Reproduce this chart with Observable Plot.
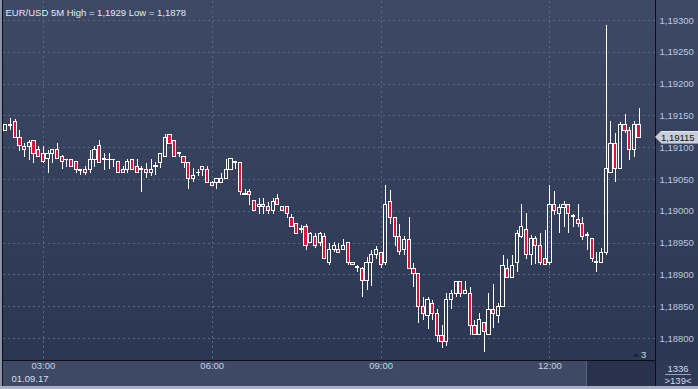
<!DOCTYPE html>
<html>
<head>
<meta charset="utf-8">
<script src="https://cdn.jsdelivr.net/npm/d3@7"></script>
<script src="https://cdn.jsdelivr.net/npm/@observablehq/plot@0.6"></script>
<style>
  html, body { margin: 0; padding: 0; background: #2c3753; }
  #wrap { position: relative; width: 698px; height: 389px; overflow: hidden;
          background: linear-gradient(#3e4a65, #2a3551);
          font-family: "Liberation Sans", Arial, sans-serif; }
  .abs { position: absolute; }
  #wrap svg { position: absolute; left: 0; top: 0; }
  .txt { color: #d3dbea; font-size: 9.5px; line-height: 1; white-space: nowrap; }
  #price { position: absolute; left: 661px; width: 37px; height: 13px; background: #c9ced8;
           border-top: 1px solid #e6e9ef; border-bottom: 1px solid #8d96a8; box-sizing: border-box;
           color: #11151c; font-size: 9.5px; line-height: 11px; padding-left: 0px; white-space: nowrap; z-index: 5; }
  #arrow { position: absolute; left: 655px; width: 0; height: 0; border-top: 6.5px solid transparent;
           border-bottom: 6.5px solid transparent; border-right: 6px solid #c9ced8; z-index: 5; }
</style>
</head>
<body>
<div id="wrap">
  <div class="abs" style="left:3px;top:361px;width:652px;height:25px;background:#3e4a65;"></div>
  <div class="abs" style="left:586px;top:361px;width:69px;height:25px;background:#28324c;border-left:1px solid #56617a;"></div>
  <div class="abs" style="left:656px;top:361px;width:42px;height:25px;background:#2e3955;"></div>
  <div class="abs" style="left:0;top:0;width:2px;height:389px;background:#8a94a8;"></div>
  <div class="abs" style="left:0;top:386px;width:698px;height:3px;background:#a9b2c4;"></div>
  <div class="abs" style="left:2px;top:0;width:1px;height:386px;background:#0b0e16;"></div>
  <div class="abs" style="left:655px;top:0;width:1px;height:386px;background:#0b0e16;"></div>
  <div class="abs" style="left:2px;top:360px;width:654px;height:1px;background:#0b0e16;"></div>
  <div class="abs txt" style="left:667px;top:364px;width:22px;text-align:center;">1336</div>
  <div class="abs" style="left:665px;top:374px;width:26px;height:1px;background:#9aa6bc;"></div>
  <div class="abs txt" style="left:663px;top:376px;width:30px;text-align:center;">&gt;139&lt;</div>
  <div class="abs txt" style="left:641px;top:350px;">3</div>
  <div class="abs" style="left:633px;top:353px;width:0;height:0;border-left:3px solid transparent;border-right:3px solid transparent;border-bottom:4px solid #1c2438;"></div>
</div>
<script>
// ---- data (EUR/USD, 5-minute bars, 01.09.17 from 02:20) ----
const title = "EUR/USD 5M High = 1,1929 Low = 1,1878";
const dateLabel = "01.09.17";
const firstBar = "2017-09-01T02:20:00Z";
const barMinutes = 5;
const totalSlots = 139;

const open = [1.19127,1.19134,1.19140,1.19116,1.19101,1.19101,1.19111,1.19096,1.19090,1.19082,
1.19090,1.19096,1.19086,1.19081,1.19081,1.19077,1.19065,1.19065,1.19065,1.19081,
1.19102,1.19081,1.19081,1.19081,1.19077,1.19065,1.19065,1.19081,1.19070,1.19065,
1.19065,1.19060,1.19070,1.19076,1.19085,1.19120,1.19111,1.19090,1.19085,1.19076,
1.19051,1.19060,1.19065,1.19065,1.19045,1.19045,1.19045,1.19051,1.19065,1.19076,
1.19076,1.19026,1.19030,1.19016,1.19006,1.19010,1.19006,1.19001,1.19020,1.19006,
1.19006,1.18989,1.18980,1.18971,1.18975,1.18950,1.18960,1.18950,1.18960,1.18919,
1.18939,1.18939,1.18939,1.18950,1.18919,1.18911,1.18910,1.18890,1.18919,1.18931,
1.18935,1.18919,1.19015,1.18990,1.18960,1.18939,1.18955,1.18910,1.18901,1.18850,
1.18835,1.18855,1.18839,1.18804,1.18794,1.18860,1.18870,1.18889,1.18870,1.18870,
1.18820,1.18805,1.18824,1.18805,1.18845,1.18835,1.18850,1.18910,1.18895,1.18918,
1.18959,1.18970,1.18931,1.18956,1.18945,1.18925,1.18919,1.19010,1.18995,1.19005,
1.19010,1.18991,1.18986,1.18980,1.18961,1.18956,1.18919,1.18919,1.18935,1.19061,
1.19106,1.19066,1.19136,1.19127,1.19096,1.19136];

const high = [1.19136,1.19146,1.19144,1.19127,1.19107,1.19111,1.19112,1.19102,1.19102,1.19096,
1.19097,1.19107,1.19088,1.19082,1.19082,1.19078,1.19066,1.19070,1.19096,1.19102,
1.19111,1.19091,1.19091,1.19082,1.19078,1.19070,1.19081,1.19082,1.19082,1.19070,
1.19075,1.19082,1.19077,1.19091,1.19120,1.19121,1.19112,1.19091,1.19086,1.19077,
1.19067,1.19065,1.19071,1.19070,1.19047,1.19052,1.19060,1.19082,1.19082,1.19077,
1.19077,1.19035,1.19035,1.19017,1.19020,1.19020,1.19014,1.19020,1.19026,1.19007,
1.19007,1.18995,1.18981,1.18977,1.18980,1.18966,1.18965,1.18966,1.18965,1.18950,
1.18951,1.18949,1.18955,1.18951,1.18920,1.18915,1.18911,1.18928,1.18938,1.18944,
1.18936,1.19041,1.19033,1.18991,1.18980,1.18960,1.18990,1.18918,1.18902,1.18864,
1.18864,1.18860,1.18845,1.18820,1.18870,1.18875,1.18890,1.18890,1.18889,1.18880,
1.18829,1.18839,1.18825,1.18870,1.18885,1.18855,1.18931,1.18925,1.18931,1.18970,
1.19011,1.18996,1.18962,1.18961,1.18965,1.18970,1.19041,1.19031,1.19010,1.19015,
1.19011,1.18995,1.19010,1.18991,1.18966,1.18957,1.18936,1.18941,1.19292,1.19141,
1.19122,1.19140,1.19152,1.19132,1.19141,1.19161];

const low = [1.19125,1.19127,1.19115,1.19094,1.19085,1.19080,1.19075,1.19084,1.19075,1.19059,
1.19075,1.19081,1.19066,1.19069,1.19070,1.19060,1.19056,1.19056,1.19060,1.19069,
1.19075,1.19064,1.19065,1.19069,1.19060,1.19060,1.19060,1.19065,1.19060,1.19030,
1.19051,1.19055,1.19056,1.19067,1.19085,1.19106,1.19085,1.19085,1.19067,1.19035,
1.19045,1.19055,1.19055,1.19045,1.19040,1.19035,1.19044,1.19050,1.19064,1.19065,
1.19025,1.19025,1.19009,1.19000,1.18995,1.18995,1.18995,1.18995,1.19009,1.19000,
1.18989,1.18975,1.18964,1.18965,1.18938,1.18949,1.18941,1.18945,1.18924,1.18914,
1.18935,1.18934,1.18938,1.18914,1.18914,1.18904,1.18865,1.18875,1.18881,1.18925,
1.18910,1.18915,1.18980,1.18944,1.18931,1.18931,1.18909,1.18880,1.18824,1.18829,
1.18814,1.18829,1.18794,1.18784,1.18788,1.18845,1.18864,1.18865,1.18869,1.18805,
1.18804,1.18804,1.18778,1.18804,1.18815,1.18824,1.18849,1.18894,1.18894,1.18904,
1.18958,1.18925,1.18915,1.18917,1.18915,1.18914,1.18915,1.18993,1.18965,1.18975,
1.18965,1.18975,1.18975,1.18954,1.18938,1.18920,1.18904,1.18918,1.18931,1.19060,
1.19045,1.19065,1.19122,1.19080,1.19085,1.19115];

const close = [1.19135,1.19135,1.19116,1.19102,1.19096,1.19107,1.19090,1.19085,1.19077,1.19090,
1.19096,1.19082,1.19077,1.19080,1.19070,1.19065,1.19064,1.19061,1.19081,1.19096,
1.19076,1.19082,1.19080,1.19080,1.19061,1.19061,1.19077,1.19065,1.19060,1.19066,
1.19060,1.19065,1.19071,1.19090,1.19116,1.19106,1.19085,1.19091,1.19076,1.19051,
1.19056,1.19061,1.19070,1.19045,1.19040,1.19051,1.19051,1.19065,1.19082,1.19077,
1.19030,1.19027,1.19026,1.19000,1.19010,1.19006,1.19001,1.19014,1.19010,1.19001,
1.18995,1.18976,1.18965,1.18972,1.18945,1.18965,1.18945,1.18965,1.18925,1.18939,
1.18945,1.18935,1.18945,1.18919,1.18915,1.18912,1.18890,1.18919,1.18931,1.18939,
1.18915,1.19010,1.18989,1.18960,1.18936,1.18955,1.18910,1.18901,1.18850,1.18839,
1.18860,1.18839,1.18804,1.18794,1.18860,1.18870,1.18889,1.18870,1.18875,1.18820,
1.18805,1.18829,1.18810,1.18845,1.18839,1.18850,1.18914,1.18895,1.18914,1.18965,
1.18975,1.18931,1.18956,1.18945,1.18919,1.18915,1.19010,1.19001,1.19005,1.19010,
1.18995,1.18992,1.18980,1.18959,1.18962,1.18925,1.18920,1.18935,1.19066,1.19106,
1.19066,1.19136,1.19127,1.19096,1.19136,1.19115];

const yTicks = [1.188, 1.1885, 1.189, 1.1895, 1.19, 1.1905, 1.191, 1.1915, 1.192, 1.1925, 1.193];
const xTickLabels = ["03:00", "06:00", "09:00", "12:00"];

// ---- build table ----
const t0 = new Date(firstBar);
const bars = open.map((o, i) => ({
  date: d3.utcMinute.offset(t0, barMinutes * i),
  open: o, high: high[i], low: low[i], close: close[i]
}));
const half = barMinutes * 60000 / 2;
const xDomain = [new Date(+t0 - half), new Date(+t0 + (totalSlots - 1) * barMinutes * 60000 + half)];
const xTicks = xTickLabels.map(s => new Date(`2017-09-01T${s}:00Z`));
const bodyHalf = barMinutes * 60000 * 0.34;
const fmtPrice = v => v.toFixed(5).replace(".", ",");
const bull = bars.filter(d => d.close >= d.open);
const bear = bars.filter(d => d.close < d.open);
const last = bars[bars.length - 1];

const grid = {stroke: "#5a6784", strokeDasharray: "2,3", strokeWidth: 1, shapeRendering: "crispEdges"};
const crisp = {stroke: "#ffffff", strokeWidth: 1, shapeRendering: "crispEdges"};
const plot = Plot.plot({
  width: 698, height: 389,
  marginLeft: 3, marginRight: 43, marginTop: 1, marginBottom: 29,
  style: {background: "transparent", fontFamily: "'Liberation Sans', Arial, sans-serif", fontSize: "9.5px", overflow: "visible"},
  x: {type: "utc", domain: xDomain},
  y: {domain: [1.187654, 1.193299]},
  marks: [
    Plot.ruleY(yTicks, {...grid}),
    Plot.ruleX(xTicks, {...grid}),
    Plot.ruleX(bars, {x: "date", y1: "high", y2: d => Math.max(d.open, d.close), ...crisp}),
    Plot.ruleX(bars, {x: "date", y1: d => Math.min(d.open, d.close), y2: "low", ...crisp}),
    Plot.rect(bull, {x1: d => new Date(+d.date - bodyHalf), x2: d => new Date(+d.date + bodyHalf), y1: "open", y2: "close", fill: "none", ...crisp}),
    Plot.rect(bear, {x1: d => new Date(+d.date - bodyHalf), x2: d => new Date(+d.date + bodyHalf), y1: "open", y2: "close", fill: "#dc143c", ...crisp}),
    Plot.axisY(yTicks, {anchor: "right", tickSize: 0, tickPadding: 4, tickFormat: fmtPrice, fill: "#bcc8dc", label: null}),
    Plot.axisX(xTicks, {anchor: "bottom", tickSize: 0, tickPadding: 2, tickFormat: d3.utcFormat("%H:%M"), fill: "#c6d0e2", label: null}),
    Plot.text([title], {frameAnchor: "top-left", dx: 2, dy: 7.5, textAnchor: "start", fill: "#e2e8f2"}),
    Plot.text([dateLabel], {frameAnchor: "bottom-left", dx: 8, dy: 21, textAnchor: "start", fill: "#d6deec"})
  ]
});
const wrap = document.getElementById("wrap");
wrap.appendChild(plot);

// last-price marker on the right axis, positioned with Plot's y scale
const yPos = plot.scale("y").apply(last.close);
const arrow = document.createElement("div");
arrow.id = "arrow";
arrow.style.top = (yPos - 6.5) + "px";
const price = document.createElement("div");
price.id = "price";
price.style.top = (yPos - 6.5) + "px";
price.textContent = fmtPrice(last.close);
wrap.appendChild(arrow);
wrap.appendChild(price);
</script>
</body>
</html>
